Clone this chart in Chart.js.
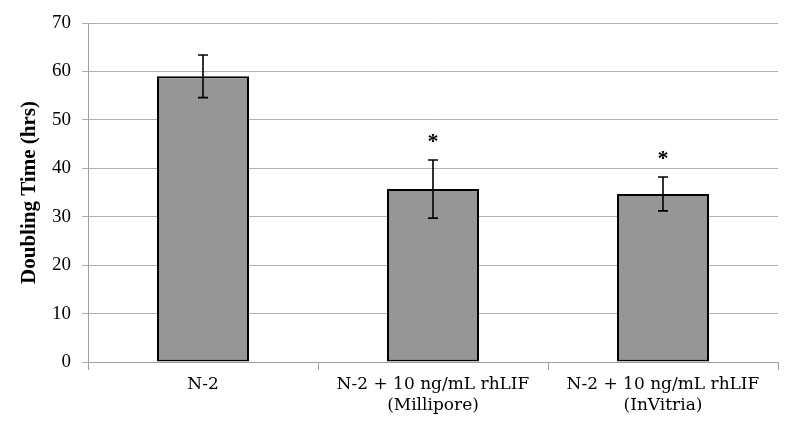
<!DOCTYPE html>
<html><head><meta charset="utf-8">
<script src="https://cdn.jsdelivr.net/npm/chart.js@4/dist/chart.umd.min.js"></script>
<style>html,body{margin:0;padding:0;background:#fff}#wrap{width:800px;height:433px}</style>
</head><body><div id="wrap"><canvas id="c" width="800" height="433"></canvas></div>
<script>
const categories = [["N-2"], ["N-2 + 10 ng/mL rhLIF", "(Millipore)"], ["N-2 + 10 ng/mL rhLIF", "(InVitria)"]];
const doublingTime = [59.0, 35.7, 34.7];
const errorSD = [4.4, 6.0, 3.5];
const significance = ["", "*", "*"];
const yTicks = [0, 10, 20, 30, 40, 50, 60, 70];

const FONT = "'Liberation Serif', 'DejaVu Serif', serif";
const LABEL_FONT = "'DejaVu Serif', 'Liberation Serif', serif";

const errorPlugin = {
  id: 'errorBars',
  afterDatasetsDraw(chart) {
    const ctx = chart.ctx;
    const meta = chart.getDatasetMeta(0);
    const y = chart.scales.y;
    ctx.save();
    meta.data.forEach((bar, i) => {
      const x = bar.x;
      const yTop = y.getPixelForValue(doublingTime[i] + errorSD[i]);
      const yBot = y.getPixelForValue(doublingTime[i] - errorSD[i]);
      ctx.strokeStyle = '#000';
      ctx.lineWidth = 1.6;
      ctx.beginPath();
      ctx.moveTo(x, yTop); ctx.lineTo(x, yBot);
      ctx.moveTo(x - 5, yTop); ctx.lineTo(x + 5, yTop);
      ctx.moveTo(x - 5, yBot); ctx.lineTo(x + 5, yBot);
      ctx.stroke();
      if (significance[i]) {
        ctx.fillStyle = '#000';
        ctx.font = "bold 22px " + FONT;
        ctx.textAlign = 'center';
        ctx.textBaseline = 'middle';
        ctx.fillText(significance[i], x, yTop - 18);
      }
    });
    ctx.restore();
  }
};

new Chart(document.getElementById('c'), {
  type: 'bar',
  data: {
    labels: categories,
    datasets: [{
      data: doublingTime,
      backgroundColor: '#969696',
      borderColor: '#000',
      borderWidth: 2,
      borderSkipped: false,
      categoryPercentage: 0.4,
      barPercentage: 1.0
    }]
  },
  options: {
    responsive: false,
    animation: false,
    devicePixelRatio: 1,
    layout: { padding: { left: 0, right: 22, top: 23, bottom: 0 } },
    plugins: { legend: { display: false }, tooltip: { enabled: false } },
    scales: {
      x: {
        afterFit(axis) { axis.height = 71; },
        grid: { display: true, drawOnChartArea: false, drawTicks: true, tickLength: 8, color: '#a0a0a0', offset: true },
        border: { display: true, color: '#a0a0a0', width: 1 },
        ticks: { color: '#000', font: { family: LABEL_FONT, size: 17, lineHeight: 1.25 }, padding: 4, maxRotation: 0, autoSkip: false }
      },
      y: {
        min: 0, max: 70,
        afterBuildTicks(axis) { axis.ticks = yTicks.map(v => ({ value: v })); },
        afterFit(axis) { axis.width = 88; },
        grid: { color: '#b0b0b0', tickLength: 6, lineWidth: 1 },
        border: { display: true, color: '#a0a0a0' },
        ticks: { color: '#000', font: { family: FONT, size: 19 }, padding: 11 },
        title: { display: true, text: 'Doubling Time (hrs)', color: '#000', font: { family: FONT, size: 21, weight: 'bold' }, padding: { top: 17, bottom: 0 } }
      }
    }
  },
  plugins: [errorPlugin]
});
</script></body></html>
